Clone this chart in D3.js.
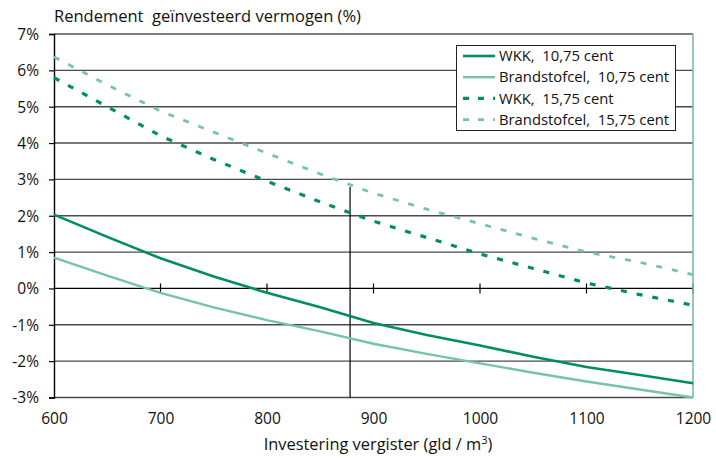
<!DOCTYPE html>
<html><head><meta charset="utf-8">
<script src="https://cdn.jsdelivr.net/npm/d3@7"></script>
<style>
body{margin:0;background:#fff;}
svg text{font-family:"Open Sans","Noto Sans",sans-serif;fill:#111;}
</style></head>
<body><svg id="c" width="716" height="458"></svg>
<script>
const xValues = [600,650,700,750,800,850,900,950,1000,1050,1100,1150,1200];
const wkk1075 = [2.03,1.42,0.83,0.33,-0.12,-0.52,-0.95,-1.28,-1.57,-1.88,-2.16,-2.38,-2.61];
const bs1075  = [0.85,0.35,-0.12,-0.52,-0.87,-1.18,-1.52,-1.80,-2.06,-2.32,-2.56,-2.78,-3.0];
const wkk1575 = [5.8,5.0,4.2,3.55,2.95,2.38,1.85,1.4,0.95,0.55,0.15,-0.17,-0.46];
const bs1575  = [6.37,5.6,4.88,4.3,3.72,3.15,2.62,2.18,1.78,1.38,1.0,0.72,0.38];
const seriesNames = ["WKK,  10,75 cent","Brandstofcel,  10,75 cent","WKK,  15,75 cent","Brandstofcel,  15,75 cent"];
const xTicks = [600,700,800,900,1000,1100,1200];
const yTicks = [-3,-2,-1,0,1,2,3,4,5,6,7];
const dropLine = {x:878, y0:2.8, y1:-3};

const FONT = '"Open Sans","Noto Sans",sans-serif';
const dark = "#008c66", light = "#74c3aa";
const series = [
  {name:seriesNames[0], vals:wkk1075, color:dark, dash:null, w:2.6},
  {name:seriesNames[1], vals:bs1075, color:light, dash:null, w:2.4},
  {name:seriesNames[2], vals:wkk1575, color:dark, dash:"6,10", w:3.2},
  {name:seriesNames[3], vals:bs1575, color:light, dash:"6,10", w:2.8}
];

const svg = d3.select("#c");
const L=54, R=693, T=34, B=397.5;
const x = d3.scaleLinear().domain([600,1200]).range([L,R]);
const y = d3.scaleLinear().domain([-3,7]).range([B,T]);

// gridlines
svg.append("g").selectAll("line").data(yTicks).join("line")
  .attr("x1",L).attr("x2",R).attr("y1",d=>y(d)).attr("y2",d=>y(d))
  .attr("stroke",d=>d===0||d===7?"#000":"#4a4a4a").attr("stroke-width",d=>d===0||d===7?1.2:1.4);

// zero-line ticks
svg.append("g").selectAll("line").data(xTicks.filter(d=>d>600)).join("line")
  .attr("x1",d=>x(d)).attr("x2",d=>x(d)).attr("y1",y(0)-5).attr("y2",y(0)+5)
  .attr("stroke","#000").attr("stroke-width",1.2);

// drop line
svg.append("line").attr("x1",x(dropLine.x)).attr("x2",x(dropLine.x))
  .attr("y1",y(dropLine.y0)).attr("y2",y(dropLine.y1)).attr("stroke","#000").attr("stroke-width",1.2);

// right border
svg.append("line").attr("x1",R).attr("x2",R).attr("y1",T).attr("y2",B)
  .attr("stroke","#7fb8a6").attr("stroke-width",1.6);

// left axis
const yAxis = d3.axisLeft(y).tickValues(yTicks).tickSize(5).tickFormat(d=>d+"%");
const ga = svg.append("g").attr("transform",`translate(${L},0)`).call(yAxis);
ga.select(".domain").attr("stroke","#000").attr("stroke-width",1.4);
ga.selectAll(".tick line").attr("stroke","#000").attr("stroke-width",1.2);
ga.selectAll(".tick text").attr("font-size",15.5).attr("x",-15).attr("dy","0.35em")
  .style("font-family",FONT).attr("fill","#111");

// x tick labels
const xAxis = d3.axisBottom(x).tickValues(xTicks).tickSize(0).tickFormat(d3.format("d"));
const gx = svg.append("g").attr("transform",`translate(0,${B})`).call(xAxis);
gx.select(".domain").remove();
gx.selectAll(".tick text").attr("font-size",15.5).attr("y",15).attr("dy","0.71em")
  .style("font-family",FONT).attr("fill","#111");

// lines
const line = d3.line().x((d,i)=>x(xValues[i])).y(d=>y(d));
series.forEach(s=>{
  svg.append("path").attr("d",line(s.vals)).attr("fill","none")
    .attr("stroke",s.color).attr("stroke-width",s.w)
    .attr("stroke-dasharray",s.dash);
});

// legend
const lg = svg.append("g");
lg.append("rect").attr("x",456.5).attr("y",45.5).attr("width",219).attr("height",85)
  .attr("fill","#fff").attr("stroke","#222").attr("stroke-width",1);
series.forEach((s,i)=>{
  const cy = 56 + i*21.2;
  lg.append("line").attr("x1",463).attr("x2",495).attr("y1",cy).attr("y2",cy)
    .attr("stroke",s.color).attr("stroke-width",s.w).attr("stroke-dasharray",s.dash?"6,9":null);
  lg.append("text").attr("x",499).attr("y",cy).attr("dy","0.35em").attr("font-size",14.8)
    .style("white-space","pre").text(s.name);
});

// title
svg.append("text").attr("x",54).attr("y",22).attr("font-size",16.5).style("white-space","pre")
  .text("Rendement  geïnvesteerd vermogen (%)");

// x title
const xt = svg.append("text").attr("x",378).attr("y",450).attr("text-anchor","middle").attr("font-size",16.4);
xt.append("tspan").text("Investering vergister (gld / m");
xt.append("tspan").attr("font-size",11).attr("dy",-6).text("3");
xt.append("tspan").attr("dy",6).text(")");
</script></body></html>
